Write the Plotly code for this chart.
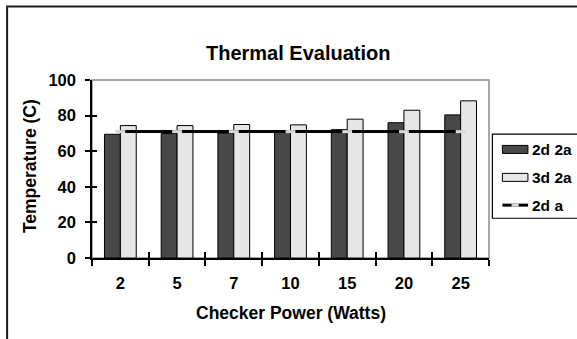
import plotly.graph_objects as go

categories = ["2", "5", "7", "10", "15", "20", "25"]
s_2d2a = [69.5, 69.9, 70.2, 70.6, 72.1, 76.0, 80.4]
s_3d2a = [74.4, 74.4, 75.0, 74.8, 78.0, 83.0, 88.3]
s_2da = [71, 71, 71, 71, 71, 71, 71]
series_names = ["2d 2a", "3d 2a", "2d a"]
y_ticks = [0, 20, 40, 60, 80, 100]

FONT = "Liberation Sans, Arial, sans-serif"
DARK = "#484848"
LIGHT = "#e6e6e6"

fig = go.Figure()
fig.add_trace(go.Bar(x=categories, y=s_2d2a, name=series_names[0],
                     marker=dict(color=DARK, line=dict(color="black", width=1)),
                     xaxis="x", yaxis="y", showlegend=False))
fig.add_trace(go.Bar(x=categories, y=s_3d2a, name=series_names[1],
                     marker=dict(color=LIGHT, line=dict(color="black", width=1)),
                     xaxis="x", yaxis="y", showlegend=False))
fig.add_trace(go.Scatter(x=categories, y=s_2da, name=series_names[2], mode="lines+markers",
                         line=dict(color="black", width=3),
                         marker=dict(symbol="line-ew", size=7, color="#d9d9d9",
                                     line=dict(color="#d9d9d9", width=3)),
                         xaxis="x2", yaxis="y2", showlegend=False))

axis_common = dict(showgrid=False, zeroline=False)
fig.update_layout(
    width=577, height=339,
    margin=dict(l=92, r=88, t=80, b=81, pad=0),
    paper_bgcolor="white", plot_bgcolor="white",
    barmode="group", bargap=0.44, bargroupgap=0,
    font=dict(family=FONT, color="black"),
    showlegend=False,
    xaxis=dict(type="category", categoryorder="array", categoryarray=categories,
               range=[-0.5, 6.5], showline=True, linecolor="black", linewidth=1.5,
               ticks="outside", tickson="boundaries", ticklen=6, tickwidth=1.5, tickcolor="black",
               tickfont=dict(size=16.5, weight="bold", family=FONT),
               ticklabelstandoff=9, **axis_common),
    yaxis=dict(range=[0, 100], tickvals=y_ticks, showline=True, linecolor="black", linewidth=1.5,
               ticks="outside", ticklen=5, tickwidth=1.5, tickcolor="black",
               tickfont=dict(size=16.5, weight="bold", family=FONT),
               ticklabelstandoff=6, **axis_common),
    xaxis2=dict(type="category", categoryorder="array", categoryarray=categories,
                range=[-0.5, 6.5], overlaying="x", anchor="y2", side="bottom",
                ticks="inside", tickson="boundaries", ticklen=6, tickwidth=1.5, tickcolor="black",
                showticklabels=False, showline=False, **axis_common),
    yaxis2=dict(range=[0, 100], tickvals=y_ticks, overlaying="y", anchor="x2", side="left",
                ticks="inside", ticklen=5, tickwidth=1.5, tickcolor="black",
                showticklabels=False, showline=False, **axis_common),
)

shapes = []
# outer chart border
shapes.append(dict(type="rect", xref="paper", yref="paper", x0=-0.2138, x1=1.30, y0=-0.6, y1=1.4125,
                   line=dict(color="#1a1a1a", width=2), layer="below"))
# plot area border (gray)
shapes.append(dict(type="rect", xref="paper", yref="paper", x0=0, x1=1, y0=0, y1=1,
                   line=dict(color="#8c8c8c", width=1.5), layer="below"))
# legend box
shapes.append(dict(type="rect", xref="paper", yref="paper", x0=1.0085, x1=1.30, y0=0.2234, y1=0.696,
                   line=dict(color="black", width=1.2), fillcolor="white", layer="above"))
leg_y = [0.610, 0.453, 0.297]
sx0, sx1 = 1.0337, 1.0981
hh = 0.0225
shapes.append(dict(type="rect", xref="paper", yref="paper", x0=sx0, x1=sx1, y0=leg_y[0] - hh, y1=leg_y[0] + hh,
                   line=dict(color="black", width=1), fillcolor=DARK, layer="above"))
shapes.append(dict(type="rect", xref="paper", yref="paper", x0=sx0, x1=sx1, y0=leg_y[1] - hh, y1=leg_y[1] + hh,
                   line=dict(color="black", width=1), fillcolor=LIGHT, layer="above"))
shapes.append(dict(type="line", xref="paper", yref="paper", x0=sx0, x1=sx1, y0=leg_y[2], y1=leg_y[2],
                   line=dict(color="black", width=3), layer="above"))
mid = (sx0 + sx1) / 2
shapes.append(dict(type="line", xref="paper", yref="paper", x0=mid - 0.009, x1=mid + 0.009, y0=leg_y[2], y1=leg_y[2],
                   line=dict(color="#d9d9d9", width=3), layer="above"))
fig.update_layout(shapes=shapes)

annotations = [
    dict(text="Thermal Evaluation", xref="paper", yref="paper", x=0.519, y=1.152,
         xanchor="center", yanchor="middle", showarrow=False,
         font=dict(size=20, weight="bold", family=FONT)),
    dict(text="Checker Power (Watts)", xref="paper", yref="paper", x=0.5, y=-0.311,
         xanchor="center", yanchor="middle", showarrow=False,
         font=dict(size=17.5, weight="bold", family=FONT)),
    dict(text="Temperature (C)", xref="paper", yref="paper", x=-0.1564, y=0.516,
         xanchor="center", yanchor="middle", showarrow=False, textangle=-90,
         font=dict(size=17.5, weight="bold", family=FONT)),
]
for name, yy in zip(series_names, leg_y):
    annotations.append(dict(text=name, xref="paper", yref="paper", x=1.103, y=yy,
                            xanchor="left", yanchor="middle", showarrow=False,
                            font=dict(size=15.5, weight="bold", family=FONT)))
fig.update_layout(annotations=annotations)

fig.write_html("out.html")
